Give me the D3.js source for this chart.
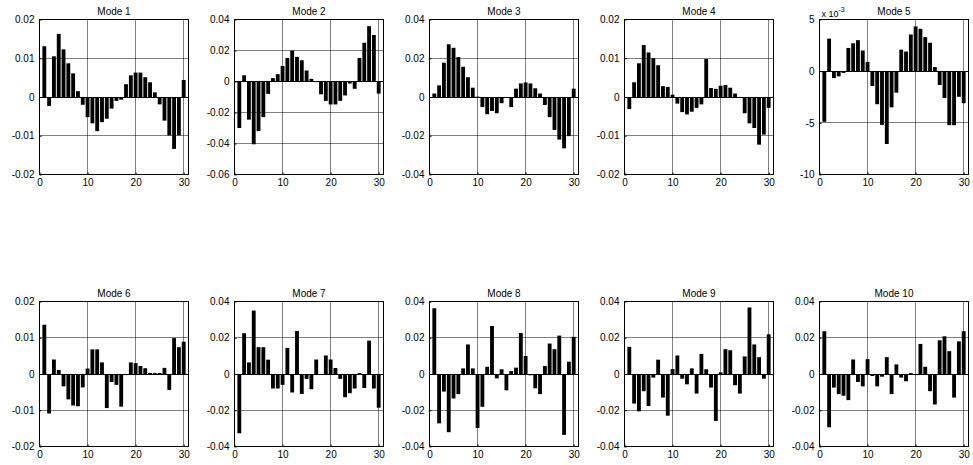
<!DOCTYPE html>
<html>
<head>
<meta charset="utf-8">
<script src="https://cdn.jsdelivr.net/npm/d3@7"></script>
<style>
  body { margin: 0; background: #fff; }
  svg { display: block; font-family: Arial, "Liberation Sans", Helvetica, sans-serif; }
</style>
</head>
<body>
<div id="chart"></div>
<script>
// mode shapes, 30 coefficients each
const mode1 = [0.0131, -0.0023, 0.0105, 0.0163, 0.0123, 0.0087, 0.0061, 0.0015, -0.0020, -0.0052,
  -0.0068, -0.0088, -0.0065, -0.0056, -0.0030, -0.0010, -0.0007, 0.0033, 0.0056, 0.0063,
  0.0063, 0.0051, 0.0038, 0.0012, -0.0019, -0.0061, -0.0099, -0.0134, -0.0099, 0.0044];
const mode2 = [-0.0300, 0.0040, -0.0246, -0.0405, -0.0320, -0.0230, -0.0080, 0.0022, 0.0047, 0.0100,
  0.0152, 0.0199, 0.0159, 0.0137, 0.0071, 0.0017, -0.0004, -0.0083, -0.0125, -0.0148,
  -0.0148, -0.0125, -0.0090, -0.0013, -0.0047, 0.0152, 0.0250, 0.0357, 0.0300, -0.0078];
const mode3 = [0.0018, 0.0060, 0.0177, 0.0272, 0.0254, 0.0206, 0.0156, 0.0102, 0.0048, 0.0002,
  -0.0052, -0.0089, -0.0072, -0.0084, -0.0032, -0.0005, -0.0052, 0.0043, 0.0070, 0.0075,
  0.0070, 0.0045, 0.0018, -0.0041, -0.0104, -0.0170, -0.0220, -0.0265, -0.0202, 0.0043];
const mode4 = [-0.0031, 0.0038, 0.0087, 0.0134, 0.0115, 0.0100, 0.0082, 0.0028, 0.0026, 0.0006,
  -0.0017, -0.0039, -0.0045, -0.0038, -0.0028, -0.0019, 0.0098, 0.0023, 0.0021, 0.0029,
  0.0031, 0.0024, 0.0009, -0.0001, -0.0042, -0.0068, -0.0080, -0.0123, -0.0097, -0.0028];
const mode5 = [-0.00490, 0.00315, -0.00067, -0.00050, -0.00017, 0.00225, 0.00270, 0.00300, 0.00200, 0.00090,
  -0.00144, -0.00320, -0.00520, -0.00705, -0.00350, -0.00208, 0.00208, 0.00190, 0.00355, 0.00433,
  0.00410, 0.00330, 0.00275, 0.00040, -0.00134, -0.00260, -0.00523, -0.00523, -0.00248, -0.00310];
const mode6 = [0.0136, -0.0109, 0.0040, 0.0011, -0.0034, -0.0070, -0.0087, -0.0089, -0.0037, 0.0015,
  0.0068, 0.0068, 0.0032, -0.0094, -0.0022, -0.0030, -0.0090, -0.0003, 0.0032, 0.0030,
  0.0022, 0.0016, 0.0003, 0.0003, 0.0003, 0.0017, -0.0044, 0.0099, 0.0074, 0.0089];
const mode7 = [-0.0327, 0.0225, 0.0064, 0.0350, 0.0148, 0.0148, 0.0079, -0.0080, -0.0080, -0.0060,
  0.0144, -0.0102, 0.0237, -0.0110, -0.0027, -0.0084, 0.0080, -0.0004, 0.0102, 0.0080,
  0.0033, -0.0027, -0.0128, -0.0106, -0.0080, 0.0005, -0.0077, 0.0184, -0.0080, -0.0186];
const mode8 = [0.0363, -0.0272, -0.0097, -0.0321, -0.0135, -0.0111, 0.0031, 0.0163, 0.0031, -0.0298,
  -0.0181, 0.0040, 0.0265, -0.0024, 0.0026, -0.0090, 0.0016, 0.0035, 0.0226, 0.0099,
  -0.0007, -0.0079, -0.0111, 0.0044, 0.0168, 0.0137, 0.0212, -0.0336, 0.0068, 0.0205];
const mode9 = [0.0150, -0.0163, -0.0206, -0.0095, -0.0177, -0.0020, 0.0079, -0.0130, -0.0230, 0.0027,
  0.0102, -0.0026, -0.0057, 0.0031, -0.0108, 0.0111, 0.0026, -0.0075, -0.0259, 0.0009,
  0.0137, 0.0131, -0.0062, -0.0108, 0.0097, 0.0367, 0.0163, 0.0093, -0.0026, 0.0219];
const mode10 = [0.0236, -0.0294, -0.0075, -0.0111, -0.0120, -0.0144, 0.0080, -0.0044, -0.0068, 0.0082,
  -0.0011, -0.0068, -0.0015, 0.0093, -0.0111, 0.0053, -0.0020, -0.0040, 0.0005, -0.0004,
  0.0166, 0.0040, -0.0095, -0.0168, 0.0186, 0.0208, 0.0126, -0.0130, 0.0180, 0.0236];

const modeTitles = ["Mode 1", "Mode 2", "Mode 3", "Mode 4", "Mode 5",
  "Mode 6", "Mode 7", "Mode 8", "Mode 9", "Mode 10"];
const modeValues = [mode1, mode2, mode3, mode4, mode5, mode6, mode7, mode8, mode9, mode10];

// y axis limits and ticks per panel
const yTicks1 = [-0.02, -0.01, 0, 0.01, 0.02];
const yTicks2 = [-0.06, -0.04, -0.02, 0, 0.02, 0.04];
const yTicks4 = [-0.04, -0.02, 0, 0.02, 0.04];
const yTicks5 = [-0.010, -0.005, 0, 0.005];
const modeTicks = [yTicks1, yTicks2, yTicks4, yTicks1, yTicks5,
  yTicks1, yTicks4, yTicks4, yTicks4, yTicks4];
const xTicks = [0, 10, 20, 30];

const width = 973, height = 465;
const colLeft = [39.5, 234.5, 429.5, 624.5, 819.5];
const rowTop = [19.5, 301.5];
const rowH = [155, 145];
const plotW = 149;

const svg = d3.select("#chart").append("svg")
  .attr("width", width)
  .attr("height", height);

modeValues.forEach((vals, k) => {
  const col = k % 5, row = Math.floor(k / 5);
  const ticks = modeTicks[k];
  const exp = k === 4 ? 1e3 : 1;
  const plotH = rowH[row];

  const g = svg.append("g")
    .attr("transform", `translate(${colLeft[col]},${rowTop[row]})`);

  const x = d3.scaleLinear().domain([0, 31]).range([0, plotW]);
  const y = d3.scaleLinear().domain(d3.extent(ticks)).range([plotH, 0]);

  // dotted grid
  g.append("g").selectAll("line")
    .data(xTicks.filter(t => t > 0))
    .enter().append("line")
      .attr("x1", d => Math.round(x(d))).attr("x2", d => Math.round(x(d)))
      .attr("y1", 0).attr("y2", plotH)
      .attr("stroke", "#000")
      .attr("stroke-dasharray", "1,1");
  g.append("g").selectAll("line")
    .data(ticks.slice(1, -1))
    .enter().append("line")
      .attr("x1", 0).attr("x2", plotW)
      .attr("y1", d => Math.round(y(d))).attr("y2", d => Math.round(y(d)))
      .attr("stroke", "#000")
      .attr("stroke-dasharray", "1,1");

  // bars
  g.append("g").selectAll("rect")
    .data(vals)
    .enter().append("rect")
      .attr("x", (d, i) => x(i + 1 - 0.4))
      .attr("width", x(0.8) - x(0))
      .attr("y", d => y(Math.max(0, d)))
      .attr("height", d => Math.abs(y(d) - y(0)))
      .attr("fill", "#000");

  // baseline
  g.append("line")
    .attr("x1", 0).attr("x2", plotW)
    .attr("y1", Math.round(y(0))).attr("y2", Math.round(y(0)))
    .attr("stroke", "#000");

  // box
  g.append("rect")
    .attr("x", 0).attr("y", 0)
    .attr("width", plotW).attr("height", plotH)
    .attr("fill", "none").attr("stroke", "#000");

  // axes, ticks inside
  const xAxis = d3.axisBottom(x).tickValues(xTicks).tickSizeInner(-2).tickSizeOuter(0).tickPadding(4);
  const yAxis = d3.axisLeft(y).tickValues(ticks).tickSizeInner(-2).tickSizeOuter(0).tickPadding(5)
    .tickFormat(d => {
      const v = +(d * exp).toFixed(3);
      return v === 0 ? "0" : String(v);
    });

  const gx = g.append("g").attr("transform", `translate(0,${plotH})`).call(xAxis);
  const gy = g.append("g").call(yAxis);
  [gx, gy].forEach(a => {
    a.select(".domain").remove();
    a.selectAll("text").attr("font-size", 10).attr("fill", "#000")
      .attr("font-family", "Arial, 'Liberation Sans', sans-serif");
    a.selectAll("line").attr("stroke", "#000");
  });

  g.append("text")
    .attr("x", plotW / 2).attr("y", -5)
    .attr("text-anchor", "middle")
    .attr("font-size", 10)
    .text(modeTitles[k]);

  if (k === 4) {
    const t = g.append("text")
      .attr("x", 2).attr("y", -3)
      .attr("font-size", 9);
    t.append("tspan").text("x 10");
    t.append("tspan").attr("dy", -5).attr("font-size", 7).text("-3");
  }
});
</script>
</body>
</html>
